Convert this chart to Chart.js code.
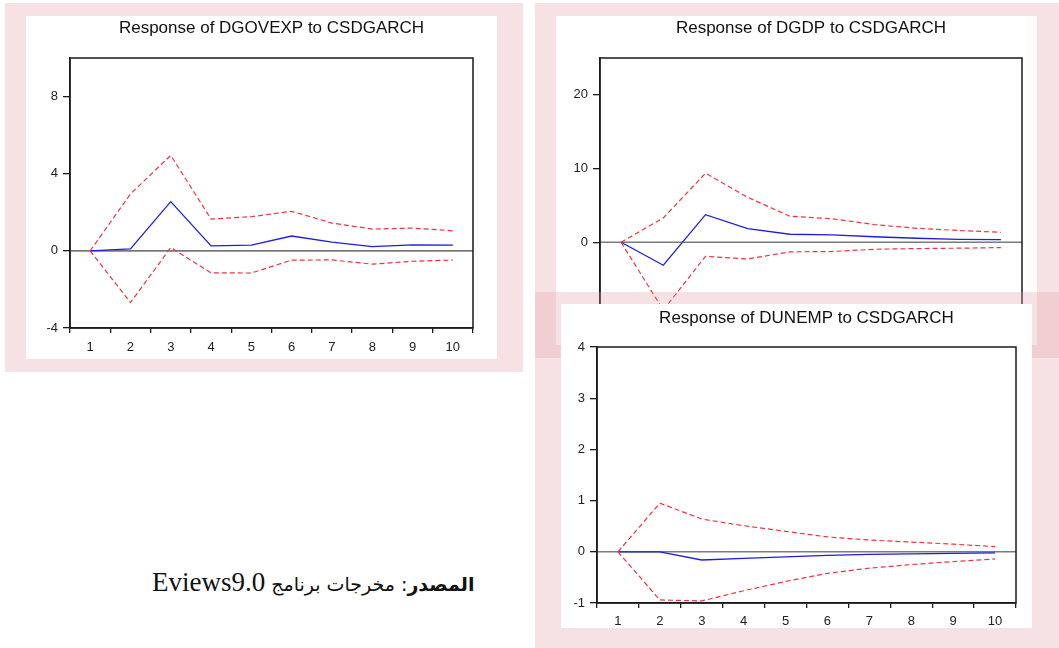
<!DOCTYPE html>
<html>
<head>
<meta charset="utf-8">
<title>IRF CSDGARCH</title>
<script src="https://cdn.jsdelivr.net/npm/chart.js"></script>
<style>
    body { margin: 0; width: 1059px; height: 648px; background: #fff; position: relative; overflow: hidden; }
    .frame { position: absolute; background: rgba(225, 160, 165, 0.3); }
    .panel { position: absolute; background: #fff; }
    .panel canvas { display: block; }
    #source { position: absolute; left: 152px; top: 567px; white-space: nowrap; color: #111; }
    #source .ar { font-family: "DejaVu Sans", serif; font-size: 19px; }
    #source .en { font-family: "Liberation Serif", serif; font-size: 27px; }
</style>
</head>
<body>

<!-- panels (pink frames, the third one overlaps the second) -->
<div class="frame" style="left:5px; top:3px; width:518px; height:369px;"></div>
<div class="panel" style="left:26px; top:16px; width:471px; height:343px;"><canvas id="govChart" width="471" height="343"></canvas></div>

<div class="frame" style="left:535px; top:3px; width:524px; height:355px;"></div>
<div class="panel" style="left:556px; top:16px; width:481px; height:329px;"><canvas id="gdpChart" width="481" height="329"></canvas></div>

<div class="frame" style="left:535px; top:292px; width:524px; height:356px;"></div>
<div class="panel" style="left:561px; top:304px; width:471px; height:324px;"><canvas id="unempChart" width="471" height="324"></canvas></div>

<div id="source" dir="rtl"><span class="ar"><b>المصدر</b>: مخرجات برنامج </span><span class="en">Eviews9.0</span></div>

<script>
// periods
const steps = ['1', '2', '3', '4', '5', '6', '7', '8', '9', '10'];

// Response of DGOVEXP to CSDGARCH
const govResp  = [0, 0.1, 2.55, 0.26, 0.3, 0.77, 0.45, 0.22, 0.31, 0.3];
const govUpper = [0, 2.95, 4.95, 1.65, 1.77, 2.05, 1.44, 1.13, 1.18, 1.04];
const govLower = [0, -2.68, 0.17, -1.14, -1.15, -0.48, -0.47, -0.69, -0.54, -0.48];
const govTicks = [-4, 0, 4, 8];

// Response of DGDP to CSDGARCH
const gdpResp  = [0, -3.12, 3.75, 1.86, 1.09, 1.0, 0.75, 0.55, 0.4, 0.36];
const gdpUpper = [0, 3.3, 9.37, 6.1, 3.53, 3.2, 2.4, 1.9, 1.6, 1.36];
const gdpLower = [0, -9.2, -1.9, -2.26, -1.3, -1.25, -0.95, -0.85, -0.8, -0.72];
const gdpTicks = [-10, 0, 10, 20];

// Response of DUNEMP to CSDGARCH
const unempResp  = [0, 0, -0.16, -0.13, -0.1, -0.07, -0.05, -0.04, -0.03, -0.02];
const unempUpper = [0, 0.95, 0.64, 0.51, 0.4, 0.29, 0.23, 0.19, 0.15, 0.1];
const unempLower = [0, -0.94, -0.96, -0.76, -0.58, -0.42, -0.32, -0.25, -0.19, -0.14];
const unempTicks = [-1, 0, 1, 2, 3, 4];

Chart.defaults.font.family = '"Liberation Sans", Arial, sans-serif';
Chart.defaults.color = '#222';

// frame box, zero line and title like the eviews output
const evFrame = {
    id: 'evFrame',
    beforeDatasetsDraw(chart) {
        const ctx = chart.ctx, a = chart.chartArea;
        const y0 = chart.scales.y.getPixelForValue(0);
        ctx.save();
        ctx.strokeStyle = '#7a7a7a';
        ctx.lineWidth = 1.6;
        ctx.beginPath();
        ctx.moveTo(a.left, y0);
        ctx.lineTo(a.right, y0);
        ctx.stroke();
        ctx.restore();
    },
    afterDraw(chart, args, opts) {
        const ctx = chart.ctx, a = chart.chartArea;
        ctx.save();
        ctx.strokeStyle = '#1a1a1a';
        ctx.lineWidth = 1.5;
        ctx.strokeRect(a.left, a.top, a.right - a.left, a.bottom - a.top);
        ctx.fillStyle = '#111';
        ctx.font = '17px "Liberation Sans", Arial, sans-serif';
        ctx.textAlign = 'center';
        ctx.textBaseline = 'middle';
        ctx.fillText(opts.text, (a.left + a.right) / 2, opts.y);
        ctx.restore();
    }
};

function makeChart(id, title, resp, upper, lower, yMin, yMax, yTicks, box) {
    const canvas = document.getElementById(id);
    const w = canvas.width, h = canvas.height;
    return new Chart(canvas, {
        type: 'line',
        data: {
            labels: steps,
            datasets: [
                { data: upper, borderColor: 'rgb(236,52,64)', borderWidth: 1.2, borderDash: [5, 3] },
                { data: lower, borderColor: 'rgb(236,52,64)', borderWidth: 1.2, borderDash: [5, 3] },
                { data: resp, borderColor: 'rgb(30,30,225)', borderWidth: 1.3 }
            ]
        },
        options: {
            responsive: false,
            animation: false,
            elements: { point: { radius: 0 }, line: { tension: 0 } },
            layout: { padding: { left: 0, top: box.top, right: w - box.right, bottom: 0 } },
            plugins: {
                legend: { display: false },
                tooltip: { enabled: false },
                evFrame: { text: title, y: box.titleY }
            },
            scales: {
                x: {
                    offset: true,
                    grid: { offset: true, drawOnChartArea: false, color: '#1a1a1a', tickLength: 5, lineWidth: 1.3 },
                    border: { color: '#1a1a1a', width: 1.5 },
                    ticks: { font: { size: 13 }, padding: box.xPad, maxRotation: 0 },
                    afterFit(s) { s.height = h - box.bottom; }
                },
                y: {
                    min: yMin,
                    max: yMax,
                    grid: { drawOnChartArea: false, color: '#1a1a1a', tickLength: 7, lineWidth: 1.3 },
                    border: { color: '#1a1a1a', width: 1.5 },
                    ticks: { font: { size: 13 }, padding: 5 },
                    afterBuildTicks(s) { s.ticks = yTicks.map(v => ({ value: v })); },
                    afterFit(s) { s.width = box.left; }
                }
            }
        },
        plugins: [evFrame]
    });
}

makeChart('govChart', 'Response of DGOVEXP to CSDGARCH', govResp, govUpper, govLower, -4, 10, govTicks,
    { left: 44, right: 447, top: 42, bottom: 312, titleY: 12, xPad: 7 });
makeChart('gdpChart', 'Response of DGDP to CSDGARCH', gdpResp, gdpUpper, gdpLower, -10, 25, gdpTicks,
    { left: 44, right: 466, top: 42, bottom: 300, titleY: 12, xPad: 7 });
makeChart('unempChart', 'Response of DUNEMP to CSDGARCH', unempResp, unempUpper, unempLower, -1, 4, unempTicks,
    { left: 36, right: 455, top: 43, bottom: 299, titleY: 14, xPad: 6 });
</script>
</body>
</html>
